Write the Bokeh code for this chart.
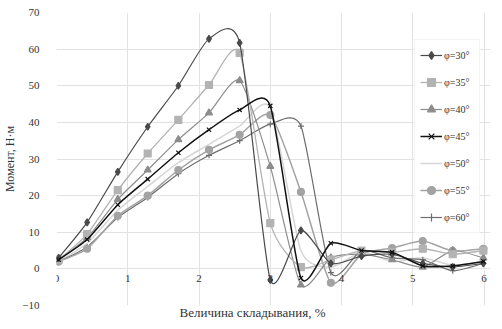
from bokeh.plotting import figure
from bokeh.models import Legend, LegendItem, Title, FixedTicker, ColumnDataSource
from bokeh.embed import file_html
from bokeh.resources import INLINE

# Величина складывания, %
strain = [0.03, 0.43, 0.86, 1.28, 1.71, 2.14, 2.57, 3.0, 3.43, 3.85, 4.28, 4.71, 5.14, 5.56, 5.99]

# Момент, Н·м for each angle φ
m30 = [3.0, 12.7, 26.5, 38.8, 50.0, 62.8, 61.7, -3.0, 10.5, 1.5, 3.5, 4.0, 1.5, 0.5, 1.5]
m35 = [2.5, 9.5, 21.5, 31.5, 40.7, 50.2, 59.0, 12.5, 0.5, 2.5, 5.0, 4.5, 5.5, 4.0, 5.0]
m40 = [2.5, 8.5, 19.0, 27.0, 35.3, 42.6, 51.4, 28.0, -4.4, 3.0, 4.0, 2.5, 0.5, 5.0, 3.0]
m45 = [2.5, 8.0, 17.5, 24.5, 31.7, 38.0, 43.4, 44.5, -2.5, 7.0, 5.0, 4.5, 0.8, 0.8, 2.0]
m50 = [2.0, 7.0, 16.0, 22.5, 29.0, 34.0, 39.0, 44.0, 5.0, 0.5, 4.5, 2.0, 3.0, 1.0, 2.0]
m55 = [2.0, 5.5, 14.5, 20.0, 27.0, 32.5, 36.6, 42.0, 21.0, -3.8, 4.0, 5.7, 7.6, 4.9, 5.5]
m60 = [2.0, 6.0, 14.0, 19.5, 26.0, 31.0, 35.0, 39.5, 39.0, -1.0, 5.0, 3.0, 2.5, -0.5, 1.5]

labels = ["φ=30°", "φ=35°", "φ=40°", "φ=45°", "φ=50°", "φ=55°", "φ=60°"]
x_ticks = [0, 1, 2, 3, 4, 5, 6]
y_ticks = [-10, 0, 10, 20, 30, 40, 50, 60, 70]

FONT = "Liberation Serif"
TXT = "#333333"


def smooth_source(xs, ys, k=0.11):
    """Bezier control points (Catmull-Rom style) so the library draws a smoothed line."""
    n = len(xs)
    d = {key: [] for key in ("x0", "y0", "x1", "y1", "cx0", "cy0", "cx1", "cy1")}
    for i in range(n - 1):
        ip = max(i - 1, 0)
        inx = min(i + 2, n - 1)
        d["x0"].append(xs[i]); d["y0"].append(ys[i])
        d["x1"].append(xs[i + 1]); d["y1"].append(ys[i + 1])
        d["cx0"].append(xs[i] + (xs[i + 1] - xs[ip]) * k)
        d["cy0"].append(ys[i] + (ys[i + 1] - ys[ip]) * k)
        d["cx1"].append(xs[i + 1] - (xs[inx] - xs[i]) * k)
        d["cy1"].append(ys[i + 1] - (ys[inx] - ys[i]) * k)
    return ColumnDataSource(d)


p = figure(width=500, height=325, x_range=(0, 6.09), y_range=(-10, 70),
           x_axis_location="above",
           output_backend="svg", toolbar_location=None,
           min_border_left=55, min_border_right=10, min_border_top=12, min_border_bottom=20)
p.outline_line_color = None
p.background_fill_color = "white"

# grid
p.xgrid.ticker = FixedTicker(ticks=x_ticks)
p.ygrid.ticker = FixedTicker(ticks=y_ticks)
p.grid.grid_line_color = "#e2e2e2"
p.grid.grid_line_width = 1

# x axis drawn along y = 0, labels just under that line
xa = p.xaxis[0]
xa.ticker = FixedTicker(ticks=x_ticks)
xa.fixed_location = 0
xa.axis_line_color = None
xa.major_tick_line_color = None
xa.minor_tick_line_color = None
xa.major_tick_out = 0
xa.major_tick_in = 0
xa.minor_tick_out = 0
xa.minor_tick_in = 0
xa.major_label_standoff = -13
xa.major_label_text_font = FONT
xa.major_label_text_font_size = "11px"
xa.major_label_text_color = TXT

ya = p.yaxis[0]
ya.ticker = FixedTicker(ticks=y_ticks)
ya.axis_line_color = None
ya.major_tick_line_color = None
ya.minor_tick_line_color = None
ya.major_tick_out = 0
ya.major_tick_in = 0
ya.minor_tick_out = 0
ya.major_label_standoff = 17
ya.major_label_text_font = FONT
ya.major_label_text_font_size = "11px"
ya.major_label_text_color = TXT
ya.axis_label = "Момент, Н·м"
ya.axis_label_text_font = FONT
ya.axis_label_text_font_size = "12px"
ya.axis_label_text_font_style = "normal"
ya.axis_label_text_color = TXT
ya.axis_label_standoff = 2

styles = {
    "φ=30°": dict(color="#4a4a4a", width=1.2, marker="diamond", size=7),
    "φ=35°": dict(color="#b3b3b3", width=1.3, marker="square", size=7),
    "φ=40°": dict(color="#8c8c8c", width=1.2, marker="triangle", size=7),
    "φ=45°": dict(color="#111111", width=1.5, marker="x", size=6),
    "φ=50°": dict(color="#d6d6d6", width=1.5, marker=None, size=0),
    "φ=55°": dict(color="#a3a3a3", width=1.5, marker="circle", size=7),
    "φ=60°": dict(color="#6e6e6e", width=1.2, marker="cross", size=6),
}
series = dict(zip(labels, [m30, m35, m40, m45, m50, m55, m60]))
draw_order = ["φ=50°", "φ=60°", "φ=55°", "φ=40°", "φ=35°", "φ=30°", "φ=45°"]

renderers = {}
for lab in draw_order:
    st = styles[lab]
    ys = series[lab]
    src = smooth_source(strain, ys)
    r_line = p.bezier(x0="x0", y0="y0", x1="x1", y1="y1", cx0="cx0", cy0="cy0",
                      cx1="cx1", cy1="cy1", source=src,
                      line_color=st["color"], line_width=st["width"])
    rs = [r_line]
    if st["marker"]:
        r_pts = p.scatter(strain, ys, marker=st["marker"], size=st["size"],
                          fill_color=st["color"], line_color=st["color"], line_width=1.2)
        rs.append(r_pts)
    renderers[lab] = rs

items = [LegendItem(label=lab, renderers=renderers[lab]) for lab in labels]
legend = Legend(items=items, location=(358, 72), padding=5, spacing=7, margin=0,
                glyph_width=22, glyph_height=20, label_height=20, label_width=30,
                label_standoff=2, label_text_font=FONT, label_text_font_size="10px",
                label_text_color=TXT, background_fill_color="white",
                background_fill_alpha=1.0, border_line_color="#e8e8e8")
p.add_layout(legend)

xtitle = Title(text="Величина складывания, %", align="left", offset=123,
               vertical_align="top", standoff=-2, text_font=FONT,
               text_font_size="13px", text_font_style="normal", text_color=TXT)
p.add_layout(xtitle, "below")

open("out.html", "w").write(file_html(p, INLINE))
